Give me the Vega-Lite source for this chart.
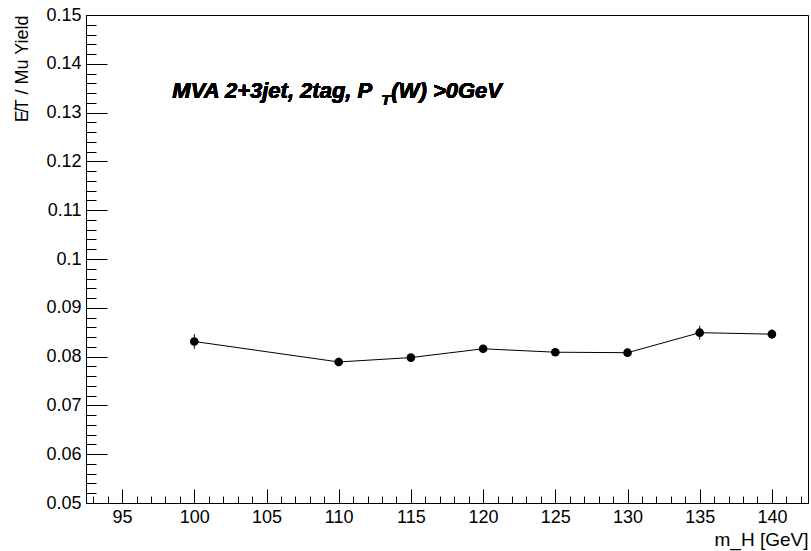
{
  "$schema": "https://vega.github.io/schema/vega-lite/v6.json",
  "width": 722,
  "height": 488,
  "autosize": {"type": "none"},
  "padding": {"left": 86, "top": 15, "right": 3, "bottom": 48},
  "background": "white",
  "config": {
    "font": "Liberation Sans",
    "view": {"stroke": "black", "strokeWidth": 1},
    "axis": {"grid": false, "domainColor": "black", "tickColor": "black", "labelColor": "black", "titleColor": "black", "domainWidth": 1, "tickWidth": 1}
  },
  "data": {"values": [
    {"m": 100, "v": 0.0831, "lo": 0.0816, "hi": 0.0846},
    {"m": 110, "v": 0.0789, "lo": 0.0780, "hi": 0.0798},
    {"m": 115, "v": 0.0798, "lo": 0.0790, "hi": 0.0806},
    {"m": 120, "v": 0.0816, "lo": 0.0808, "hi": 0.0824},
    {"m": 125, "v": 0.0809, "lo": 0.0802, "hi": 0.0816},
    {"m": 130, "v": 0.0808, "lo": 0.0801, "hi": 0.0815},
    {"m": 135, "v": 0.0849, "lo": 0.0835, "hi": 0.0863},
    {"m": 140, "v": 0.0846, "lo": 0.0836, "hi": 0.0856}
  ]},
  "resolve": {"axis": {"x": "independent", "y": "independent"}},
  "layer": [
    {
      "mark": {"type": "line", "color": "black", "strokeWidth": 1},
      "encoding": {
        "x": {"field": "m", "type": "quantitative", "scale": {"domain": [92.5, 142.5], "nice": false, "zero": false},
              "axis": {"orient": "bottom", "values": [93,94,96,97,98,99,101,102,103,104,106,107,108,109,111,112,113,114,116,117,118,119,121,122,123,124,126,127,128,129,131,132,133,134,136,137,138,139,141,142], "labels": false, "tickSize": -7, "domain": false, "title": null}},
        "y": {"field": "v", "type": "quantitative", "scale": {"domain": [0.05, 0.15], "nice": false, "zero": false},
              "axis": {"orient": "left", "values": [0.052,0.054,0.056,0.058,0.062,0.064,0.066,0.068,0.072,0.074,0.076,0.078,0.082,0.084,0.086,0.088,0.092,0.094,0.096,0.098,0.102,0.104,0.106,0.108,0.112,0.114,0.116,0.118,0.122,0.124,0.126,0.128,0.132,0.134,0.136,0.138,0.142,0.144,0.146,0.148], "labels": false, "tickSize": -10, "domain": false, "title": null}}
      }
    },
    {
      "mark": {"type": "rule", "color": "black", "strokeWidth": 1},
      "encoding": {
        "x": {"field": "m", "type": "quantitative", "axis": null},
        "y": {"field": "lo", "type": "quantitative", "axis": null},
        "y2": {"field": "hi"}
      }
    },
    {
      "mark": {"type": "point", "filled": true, "color": "black", "opacity": 1, "size": 75},
      "encoding": {
        "x": {"field": "m", "type": "quantitative",
              "axis": {"orient": "bottom", "values": [95,100,105,110,115,120,125,130,135,140], "tickSize": -14, "labelPadding": 19, "labelFontSize": 18, "labelFont": "Liberation Sans",
                       "title": "m_H [GeV]", "titleFontSize": 19, "titleFontWeight": "normal", "titleAlign": "right", "titleAnchor": "end", "titleX": 722, "titleY": 42, "titleBaseline": "alphabetic"}},
        "y": {"field": "v", "type": "quantitative",
              "axis": {"orient": "left", "values": [0.05,0.06,0.07,0.08,0.09,0.1,0.11,0.12,0.13,0.14,0.15], "format": ".2~f", "tickSize": -21, "labelPadding": 26, "labelFontSize": 18, "labelFont": "Liberation Sans",
                       "title": "E̸T / Mu Yield", "titleFontSize": 18, "titleFontWeight": "normal", "titleAngle": -90, "titleAlign": "right", "titleBaseline": "middle", "titleX": -64, "titleY": 0, "titleAnchor": "end"}}
      }
    },
    {
      "mark": {"type": "text", "text": "MVA 2+3jet, 2tag, P", "align": "left", "baseline": "alphabetic", "fontSize": 22, "fontWeight": "bold", "fontStyle": "italic", "color": "black"},
      "encoding": {"x": {"datum": 98.48, "type": "quantitative", "axis": null}, "y": {"datum": 0.133, "type": "quantitative", "axis": null}}
    },
    {
      "mark": {"type": "text", "text": "T", "align": "left", "baseline": "alphabetic", "fontSize": 15, "fontWeight": "bold", "fontStyle": "italic", "color": "black", "dx": 209, "dy": 7},
      "encoding": {"x": {"datum": 98.48, "type": "quantitative", "axis": null}, "y": {"datum": 0.133, "type": "quantitative", "axis": null}}
    },
    {
      "mark": {"type": "text", "text": "(W) >0GeV", "align": "left", "baseline": "alphabetic", "fontSize": 22, "fontWeight": "bold", "fontStyle": "italic", "color": "black", "dx": 219},
      "encoding": {"x": {"datum": 98.48, "type": "quantitative", "axis": null}, "y": {"datum": 0.133, "type": "quantitative", "axis": null}}
    }
  ]
}
